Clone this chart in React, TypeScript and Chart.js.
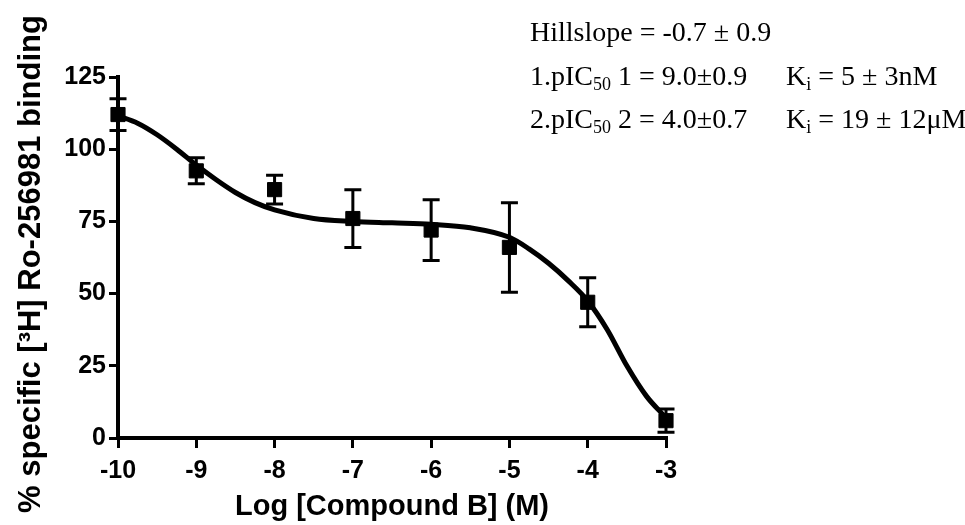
import React, { useEffect, useRef } from "react";
import { Chart, registerables } from "chart.js";

Chart.register(...registerables);

// Measured data (log concentration vs % specific binding)
const logConc = [-10, -9, -8, -7, -6, -5, -4, -3];
const meanBinding = [112, 92.5, 86, 76, 72, 66, 47, 6];
const semBinding = [5.5, 4.5, 5, 10, 10.5, 15.5, 8.5, 4];

// Fitted two-site curve
const curveX = [-10, -9.75, -9.5, -9.25, -9, -8.75, -8.5, -8.25, -8, -7.5, -7, -6.5, -6, -5.5, -5, -4.75, -4.5, -4.25, -4, -3.75, -3.5, -3.25, -3];
const curveY = [111.5, 109, 105, 100, 94.5, 89.5, 85, 81.5, 79, 76, 75, 74.5, 74, 72.8, 69.5, 65.5, 60.5, 54.5, 47.5, 37.5, 25, 14.5, 7];

const xTicks = [-10, -9, -8, -7, -6, -5, -4, -3];
const yTicks = [0, 25, 50, 75, 100, 125];

const xTitle = "Log [Compound B] (M)";
const yTitle = "% specific [³H] Ro-256981 binding";

type Seg = { t: string; sub?: boolean };
const annotationLines: Seg[][] = [
  [{ t: "Hillslope = -0.7 ± 0.9" }],
  [{ t: "1.pIC" }, { t: "50", sub: true }, { t: " 1 = 9.0±0.9" }],
  [{ t: "2.pIC" }, { t: "50", sub: true }, { t: " 2 = 4.0±0.7" }],
];
const annotationKi: Seg[][] = [
  [],
  [{ t: "K" }, { t: "i", sub: true }, { t: " = 5 ± 3nM" }],
  [{ t: "K" }, { t: "i", sub: true }, { t: " = 19 ± 12μM" }],
];

const SANS = "'Liberation Sans', Arial, Helvetica, sans-serif";
const SERIF = "'Liberation Serif', 'Times New Roman', serif";

const errorBarPlugin = {
  id: "errorBars",
  afterDatasetsDraw(chart: any) {
    const ctx = chart.ctx;
    const xs = chart.scales.x;
    const ys = chart.scales.y;
    ctx.save();
    ctx.strokeStyle = "#000";
    ctx.lineWidth = 3;
    ctx.lineCap = "butt";
    for (let i = 0; i < logConc.length; i++) {
      const px = xs.getPixelForValue(logConc[i]);
      const top = ys.getPixelForValue(meanBinding[i] + semBinding[i]);
      const bot = ys.getPixelForValue(meanBinding[i] - semBinding[i]);
      ctx.beginPath();
      ctx.moveTo(px, top);
      ctx.lineTo(px, bot);
      ctx.moveTo(px - 8.5, top);
      ctx.lineTo(px + 8.5, top);
      ctx.moveTo(px - 8.5, bot);
      ctx.lineTo(px + 8.5, bot);
      ctx.stroke();
    }
    ctx.restore();
  },
};

function drawSegs(ctx: any, segs: Seg[], x: number, y: number) {
  let cx = x;
  for (const s of segs) {
    if (s.sub) {
      ctx.font = `18px ${SERIF}`;
      ctx.fillText(s.t, cx, y + 5);
    } else {
      ctx.font = `28px ${SERIF}`;
      ctx.fillText(s.t, cx, y);
    }
    cx += ctx.measureText(s.t).width;
  }
}

const annotationPlugin = {
  id: "annot",
  afterDraw(chart: any) {
    const ctx = chart.ctx;
    ctx.save();
    ctx.fillStyle = "#000";
    ctx.textBaseline = "alphabetic";
    ctx.textAlign = "left";
    const baselines = [41, 85, 128];
    for (let i = 0; i < annotationLines.length; i++) {
      drawSegs(ctx, annotationLines[i], 530, baselines[i]);
      if (annotationKi[i].length) drawSegs(ctx, annotationKi[i], 786, baselines[i]);
    }
    // y axis title
    ctx.translate(31, 264);
    ctx.rotate(-Math.PI / 2);
    ctx.textAlign = "center";
    ctx.textBaseline = "middle";
    ctx.font = `bold 31px ${SANS}`;
    ctx.fillText(yTitle, 0, 0);
    ctx.restore();
  },
};

export default function App() {
  const ref = useRef<HTMLCanvasElement | null>(null);
  useEffect(() => {
    if (!ref.current) return;
    const chart = new Chart(ref.current, {
      type: "scatter",
      data: {
        datasets: [
          {
            type: "line",
            data: curveX.map((x, i) => ({ x, y: curveY[i] })),
            borderColor: "#000",
            borderWidth: 5,
            pointRadius: 0,
            cubicInterpolationMode: "monotone",
            fill: false,
            clip: false,
            order: 2,
          } as any,
          {
            type: "scatter",
            data: logConc.map((x, i) => ({ x, y: meanBinding[i] })),
            pointStyle: "rect",
            pointRadius: 10,
            backgroundColor: "#000",
            borderColor: "#000",
            borderWidth: 1,
            clip: false,
            order: 1,
          } as any,
        ],
      },
      options: {
        responsive: false,
        animation: false,
        layout: { padding: { top: 77, right: 299, left: 0, bottom: 0 } },
        plugins: { legend: { display: false }, tooltip: { enabled: false } },
        scales: {
          x: {
            type: "linear",
            min: -10,
            max: -3,
            afterBuildTicks: (s: any) => {
              s.ticks = xTicks.map((v) => ({ value: v }));
            },
            afterFit: (s: any) => {
              s.height = 87;
            },
            ticks: {
              color: "#000",
              font: { family: SANS, size: 25, weight: "bold" },
              padding: 8,
              maxRotation: 0,
              autoSkip: false,
            },
            grid: {
              display: true,
              drawOnChartArea: false,
              drawTicks: true,
              tickLength: 10,
              lineWidth: 3,
              color: "#000",
            },
            border: { display: true, color: "#000", width: 4 },
            title: {
              display: true,
              text: xTitle,
              color: "#000",
              font: { family: SANS, size: 29, weight: "bold" },
              padding: { top: 0, bottom: 1 },
            },
          },
          y: {
            type: "linear",
            min: 0,
            max: 125,
            afterBuildTicks: (s: any) => {
              s.ticks = yTicks.map((v) => ({ value: v }));
            },
            afterFit: (s: any) => {
              s.width = 118;
            },
            ticks: {
              color: "#000",
              font: { family: SANS, size: 25, weight: "bold" },
              padding: 3,
            },
            grid: {
              display: true,
              drawOnChartArea: false,
              drawTicks: true,
              tickLength: 9,
              lineWidth: 3,
              color: "#000",
            },
            border: { display: true, color: "#000", width: 4 },
            title: { display: false },
          },
        },
      } as any,
      plugins: [errorBarPlugin, annotationPlugin],
    });
    return () => chart.destroy();
  }, []);
  return (
    <div style={{ position: "absolute", left: 0, top: 0, width: 965, height: 525, background: "#fff" }}>
      <canvas ref={ref} width={965} height={525} style={{ display: "block" }} />
    </div>
  );
}
